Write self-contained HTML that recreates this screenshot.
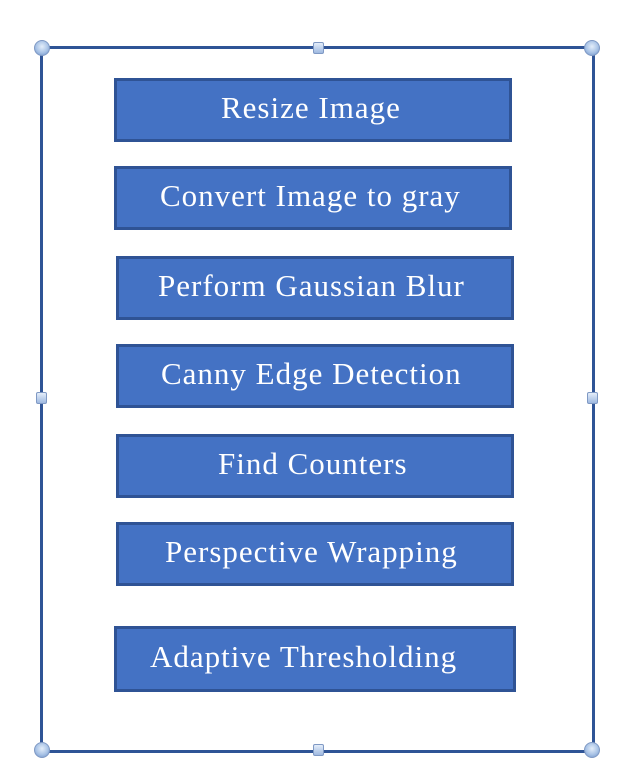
<!DOCTYPE html>
<html><head><style>
body{margin:0;width:640px;height:778px;background:#fff;position:relative;overflow:hidden;font-family:"Liberation Serif",serif;}
.f{position:absolute;border:3px solid #2f5496;}
.b{position:absolute;background:#4472c4;border:3px solid #2f5395;box-sizing:border-box;}
.t{position:absolute;top:-4px;bottom:0;display:flex;align-items:center;color:#fff;font-size:31px;letter-spacing:1px;white-space:nowrap;}
.c{position:absolute;width:16px;height:16px;border-radius:50%;background:radial-gradient(circle at 50% 40%,#e4eefa 0,#a9c3e6 55%,#6a8fc7 100%);border:1px solid #7f99c4;box-sizing:border-box;}
.s{position:absolute;width:11px;height:12px;border-radius:2px;background:linear-gradient(#e4eefa,#9fb9e0);border:1px solid #7f99c4;box-sizing:border-box;}
</style></head><body>
<div class="f" style="left:40px;top:46px;width:549px;height:701px;"></div>
<div class="b" style="left:114px;top:78px;width:398px;height:64px;"><span class="t" style="left:104px">Resize Image</span></div>
<div class="b" style="left:114px;top:166px;width:398px;height:64px;"><span class="t" style="left:43px">Convert Image to gray</span></div>
<div class="b" style="left:116px;top:256px;width:398px;height:64px;"><span class="t" style="left:39px">Perform Gaussian Blur</span></div>
<div class="b" style="left:116px;top:344px;width:398px;height:64px;"><span class="t" style="left:42px">Canny Edge Detection</span></div>
<div class="b" style="left:116px;top:434px;width:398px;height:64px;"><span class="t" style="left:99px">Find Counters</span></div>
<div class="b" style="left:116px;top:522px;width:398px;height:64px;"><span class="t" style="left:46px">Perspective Wrapping</span></div>
<div class="b" style="left:114px;top:626px;width:402px;height:66px;"><span class="t" style="left:33px">Adaptive Thresholding</span></div>
<div class="c" style="left:34px;top:40px"></div>
<div class="c" style="left:584px;top:40px"></div>
<div class="c" style="left:34px;top:742px"></div>
<div class="c" style="left:584px;top:742px"></div>
<div class="s" style="left:313px;top:42px"></div>
<div class="s" style="left:313px;top:744px"></div>
<div class="s" style="left:36px;top:392px"></div>
<div class="s" style="left:587px;top:392px"></div>
</body></html>
